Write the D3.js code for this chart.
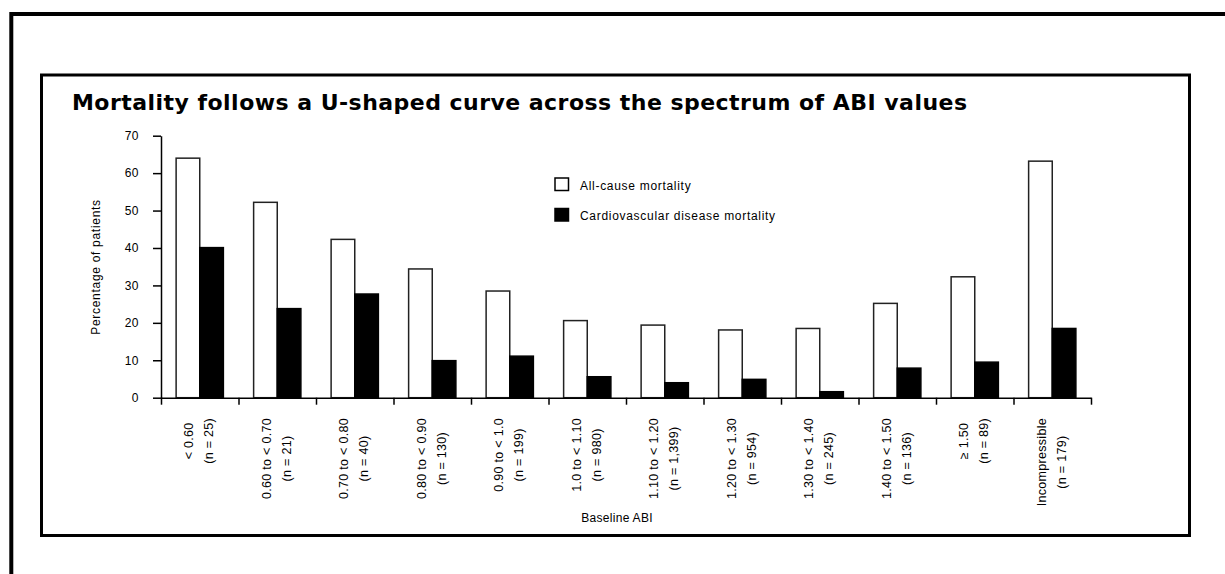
<!DOCTYPE html>
<html>
<head>
<meta charset="utf-8">
<script src="https://cdn.jsdelivr.net/npm/d3@7"></script>
<style>
  html, body { margin: 0; padding: 0; background: #fff; }
  svg { display: block; }
  text { font-family: "Liberation Sans", Arial, sans-serif; fill: #000; }
</style>
</head>
<body>
<svg id="chart" width="1225" height="574"></svg>
<script>
// ABI categories (two label lines each) and mortality percentages
const categories = ["< 0.60", "0.60 to < 0.70", "0.70 to < 0.80", "0.80 to < 0.90", "0.90 to < 1.0",
  "1.0 to < 1.10", "1.10 to < 1.20", "1.20 to < 1.30", "1.30 to < 1.40", "1.40 to < 1.50",
  "\u2265 1.50", "Incompressible"];
const sampleSizes = ["(n = 25)", "(n = 21)", "(n = 40)", "(n = 130)", "(n = 199)", "(n = 980)",
  "(n = 1,399)", "(n = 954)", "(n = 245)", "(n = 136)", "(n = 89)", "(n = 179)"];
const allCause = [64.0, 52.2, 42.3, 34.4, 28.5, 20.6, 19.4, 18.1, 18.5, 25.2, 32.3, 63.2];
const cardiovascular = [40.1, 23.8, 27.7, 9.9, 11.1, 5.6, 4.0, 4.9, 1.6, 7.9, 9.5, 18.5];
const seriesNames = ["All-cause mortality", "Cardiovascular disease mortality"];
const seriesFill = ["#ffffff", "#000000"];
const yTicks = [0, 10, 20, 30, 40, 50, 60, 70];

const svg = d3.select("#chart");

// Frames
svg.append("path").attr("d", "M11.3,574 V14 H1225")
  .attr("fill", "none").attr("stroke", "#000").attr("stroke-width", 4);
svg.append("rect").attr("x", 41.5).attr("y", 75).attr("width", 1148).attr("height", 460.5)
  .attr("fill", "none").attr("stroke", "#000").attr("stroke-width", 3);

// Title
svg.append("text")
  .attr("x", 72).attr("y", 110)
  .attr("textLength", 895).attr("lengthAdjust", "spacing")
  .style("font-family", "'DejaVu Sans', Verdana, sans-serif")
  .style("font-weight", "bold").style("font-size", "22px")
  .text("Mortality follows a U-shaped curve across the spectrum of ABI values");

// Scales
const plotLeft = 161, plotRight = 1091, plotTop = 135.7, plotBottom = 397.7;
const x0 = d3.scaleBand().domain(d3.range(categories.length)).range([plotLeft, plotRight]).padding(0);
const x1 = d3.scaleBand().domain([0, 1]).range([0, x0.bandwidth()]).paddingInner(0).paddingOuter(0.64);
const y = d3.scaleLinear().domain([0, 70]).range([plotBottom, plotTop]);

// Bars
const rows = categories.map((c, i) => ({ i, vals: [allCause[i], cardiovascular[i]] }));
const groups = svg.append("g").selectAll("g").data(rows).join("g")
  .attr("transform", d => `translate(${x0(d.i)},0)`);
groups.selectAll("rect").data(d => d.vals.map((v, s) => ({ v, s }))).join("rect")
  .attr("x", d => x1(d.s))
  .attr("y", d => y(d.v))
  .attr("width", x1.bandwidth())
  .attr("height", d => y(0) - y(d.v))
  .attr("fill", d => seriesFill[d.s])
  .attr("stroke", d => d.s === 0 ? "#222" : "#000")
  .attr("stroke-width", 1.5);

// Y axis
const yAxis = svg.append("g").attr("transform", `translate(${plotLeft},0)`)
  .call(d3.axisLeft(y).tickValues(yTicks).tickSize(8).tickSizeOuter(0).tickPadding(14));
yAxis.select(".domain").attr("stroke-width", 1.5);
yAxis.selectAll(".tick line").attr("stroke-width", 1.5);
yAxis.selectAll(".tick text").style("font-size", "12px").style("letter-spacing", "0.5px")
  .style("font-family", "'Liberation Sans', Arial, sans-serif");

// X axis with ticks at category boundaries
const xb = d3.scaleLinear().domain([0, categories.length]).range([plotLeft, plotRight]);
const xAxis = svg.append("g").attr("transform", `translate(0,${plotBottom})`)
  .call(d3.axisBottom(xb).tickValues(d3.range(categories.length + 1)).tickSize(7)
    .tickSizeOuter(0).tickFormat(""));
xAxis.select(".domain").attr("stroke-width", 1.5);
xAxis.selectAll(".tick line").attr("stroke-width", 1.5);

// Rotated category labels: two centred lines per category
const labelTop = 418;
const labelG = svg.append("g");
categories.forEach((c, i) => {
  const xc = x0(i) + x0.bandwidth() / 2;
  const lines = [c, sampleSizes[i]];
  const offs = [-10.5, 9.5];
  const nodes = lines.map((t, k) => labelG.append("text")
    .attr("text-anchor", "middle")
    .attr("dominant-baseline", "central")
    .style("font-size", "12.5px").style("letter-spacing", "0.3px")
    .text(t));
  const maxLen = d3.max(nodes, n => n.node().getComputedTextLength());
  const yc = labelTop + maxLen / 2;
  nodes.forEach((n, k) => n.attr("transform", `translate(${xc + offs[k]},${yc}) rotate(-90)`));
});

// Axis titles
svg.append("text").attr("x", 617).attr("y", 522).attr("text-anchor", "middle")
  .style("font-size", "12px").style("letter-spacing", "0.3px").text("Baseline ABI");
svg.append("text").attr("transform", "translate(96,267) rotate(-90)")
  .attr("text-anchor", "middle").attr("dominant-baseline", "central")
  .style("font-size", "12px").style("letter-spacing", "0.7px").text("Percentage of patients");

// Legend
const legend = svg.append("g");
seriesNames.forEach((name, s) => {
  const ly = [178, 208.5][s];
  legend.append("rect").attr("x", 555).attr("y", ly).attr("width", 13.5).attr("height", 12.5)
    .attr("fill", seriesFill[s]).attr("stroke", "#000").attr("stroke-width", 1.5);
  legend.append("text").attr("x", 580).attr("y", ly + 11.5)
    .style("font-size", "12px").style("letter-spacing", "0.7px").text(name);
});
</script>
</body>
</html>
